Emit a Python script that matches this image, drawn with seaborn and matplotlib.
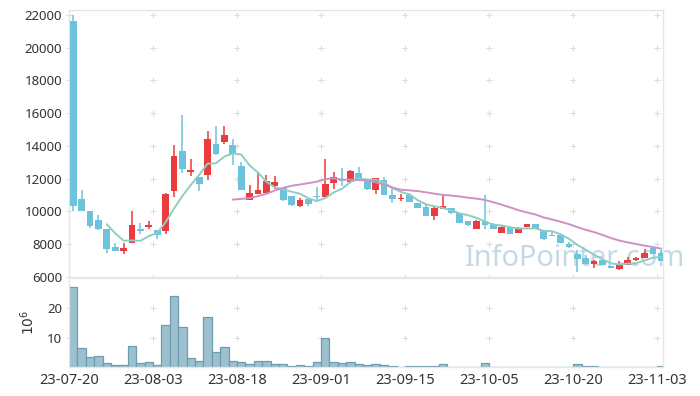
import numpy as np
import pandas as pd
import seaborn as sns
import matplotlib.pyplot as plt

# tick labels every 10 trading days
tick_labels = ['23-07-20', '23-08-03', '23-08-18', '23-09-01',
               '23-09-15', '23-10-05', '23-10-20', '23-11-03']

opens = [21600, 10750, 10050, 9450, 8950, 7850, 7600, 8080, 8950, 9040,
         8850, 8800, 11260, 13690, 12400, 12100, 12250, 14120, 14260, 14050,
         12770, 10700, 11060, 11140, 11565, 11440, 10930, 10340, 10740, 10930,
         10900, 11750, 11960, 11810, 12330, 11960, 11300, 11910, 11000, 10770,
         11000, 10490, 10280, 9730, 10160, 10220, 9910, 9410, 8960, 9430,
         9220, 8690, 9060, 8690, 9040, 9220, 8860, 8590, 8550, 8040,
         7430, 7160, 6820, 7020, 6650, 6470, 6760, 7060, 7160, 7740, 7470]
highs = [22000, 11300, 10050, 9800, 8950, 8050, 8050, 10000, 9270, 9390,
         8850, 11100, 14050, 15880, 13180, 12100, 14900, 15220, 15200, 14450,
         13040, 11590, 12350, 12220, 12140, 11440, 10930, 10800, 10740, 11470,
         13180, 12390, 12640, 12520, 12700, 11960, 12050, 12080, 11400, 11080,
         11100, 10490, 10390, 10250, 11000, 10220, 9910, 9410, 9470, 11000,
         9300, 9100, 9100, 9040, 9250, 9250, 8860, 8790, 8570, 8140,
         7630, 7370, 7010, 7050, 6700, 6960, 7220, 7200, 7690, 7770, 7630]
lows = [10050, 10000, 9000, 8850, 7450, 7580, 7430, 8050, 8650, 8930,
        8350, 8650, 10880, 12340, 12170, 11280, 11910, 13460, 14150, 12820,
        11300, 10690, 11050, 11100, 11360, 10630, 10350, 10280, 10360, 10600,
        10860, 11400, 11560, 11780, 11970, 11320, 11040, 10990, 10530, 10630,
        10590, 10200, 9730, 9510, 10160, 9830, 9300, 9100, 8940, 8900,
        8900, 8690, 8600, 8690, 9040, 8900, 8280, 8510, 8080, 7780,
        6300, 6800, 6550, 6716, 6550, 6410, 6760, 6960, 7160, 7430, 6980]
closes = [10350, 10050, 9100, 8900, 7700, 7600, 7780, 9160, 8800, 9160,
          8550, 11050, 13380, 12600, 12520, 11690, 14420, 13480, 14660, 13500,
          11310, 11100, 11300, 11850, 11790, 10690, 10400, 10690, 10465, 10890,
          11670, 12080, 11870, 12460, 11980, 11360, 12020, 11000, 10770, 10850,
          10590, 10220, 9730, 10200, 10320, 9880, 9300, 9160, 9410, 9200,
          8900, 9060, 8630, 9000, 9220, 8940, 8310, 8510, 8100, 7820,
          7070, 6820, 6980, 6716, 6560, 6760, 7060, 7160, 7490, 7430, 6980]
# volume in millions of shares
volume = [27.4, 6.4, 3.4, 3.7, 1.3, 0.7, 0.7, 7.1, 1.3, 1.7,
          0.7, 14.5, 24.3, 13.8, 3.0, 2.0, 17.2, 5.1, 6.7, 2.0,
          1.7, 1.0, 2.0, 2.0, 1.0, 1.0, 0.3, 0.6, 0.3, 1.7,
          9.8, 1.7, 1.3, 1.7, 1.0, 0.7, 1.0, 0.7, 0.3, 0.1,
          0.3, 0.3, 0.3, 0.3, 1.0, 0.05, 0.05, 0.05, 0.05, 1.3,
          0.05, 0.05, 0.05, 0.05, 0.05, 0.05, 0.05, 0.05, 0.05, 0.05,
          1.0, 0.3, 0.3, 0.05, 0.05, 0.05, 0.05, 0.05, 0.05, 0.05, 0.3]

df = pd.DataFrame({'open': opens, 'high': highs, 'low': lows,
                   'close': closes, 'vol': volume})
df['x'] = np.arange(len(df)) + 0.5
df['ma5'] = df['close'].rolling(5).mean()
df['ma20'] = df['close'].rolling(20).mean()
df['up'] = df['close'] >= df['open']

sns.set_style('white')
plt.rcParams['font.family'] = ['Noto Sans', 'DejaVu Sans']

RED = '#ea3b3e'
BLUE = '#6ec3dc'
GRID = '#dcdcdc'
SPINE = '#e6e6e6'

fig = plt.figure(figsize=(7, 3.96), dpi=100)
ax = fig.add_axes([69/700, 1-277/396, 594/700, 267/396])
axv = fig.add_axes([69/700, 1-367/396, 594/700, 89/396], sharex=ax)

# candles
colors = np.where(df['up'], RED, BLUE)
ax.vlines(df['x'], df['low'], df['high'], colors=colors, lw=1.1, zorder=2)
body_lo = df[['open', 'close']].min(axis=1).to_numpy()
body_h = (df['close'] - df['open']).abs().clip(lower=50).to_numpy()
ax.bar(df['x'].to_numpy(), body_h, bottom=body_lo, width=0.8,
       color=colors, linewidth=0, zorder=3)

# moving averages
sns.lineplot(data=df, x='x', y='ma5', ax=ax, color='#8fcdc4', lw=1.4, zorder=4)
sns.lineplot(data=df, x='x', y='ma20', ax=ax, color='#cc92c6', lw=1.4, zorder=4)

# volume
sns.barplot(data=df, x='x', y='vol', native_scale=True, width=1, ax=axv,
            color='#9dc0cf', edgecolor='#6c9cb1', linewidth=0.9,
            saturation=1, errorbar=None, zorder=2)

xticks = np.arange(0, 71, 10)
price_ticks = np.arange(6000, 22001, 2000)
vol_ticks = [10, 20]

ax.set_ylim(6000, 22300)
ax.set_yticks(price_ticks)
ax.set_xlim(0, 70.7)
axv.set_xlim(0, 70.7)
axv.set_ylim(0, 30.4)
axv.set_yticks(vol_ticks)
axv.set_xticks(xticks)
axv.set_xticklabels(tick_labels)
ax.tick_params(labelbottom=False)

for a in (ax, axv):
    a.set_xlabel('')
    a.set_ylabel('')
    a.tick_params(length=0, labelsize=9.5, labelcolor='#333333', pad=5)
    for s in a.spines.values():
        s.set_color(SPINE)
        s.set_linewidth(1)
axv.tick_params(axis='x', labelsize=10.5, pad=4)

# cross-shaped grid marks
gx, gy = np.meshgrid(xticks, price_ticks)
ax.plot(gx.ravel(), gy.ravel(), '+', color=GRID, ms=5, mew=0.8, zorder=1, clip_on=False)
gx, gy = np.meshgrid(xticks, vol_ticks)
axv.plot(gx.ravel(), gy.ravel(), '+', color=GRID, ms=5, mew=0.8, zorder=1, clip_on=False)

axv.set_ylabel(r'$10^6$', fontsize=10, color='#333333')
axv.yaxis.set_label_coords(-0.052, 0.5)

# watermark
ax.text(465/700, 1-265.5/396, 'InfoPointer.com', transform=fig.transFigure,
        fontsize=20.8, color='#c5d9e3', ha='left', va='baseline',
        zorder=0.5, clip_on=False)

fig.savefig('out.png', dpi=100)
